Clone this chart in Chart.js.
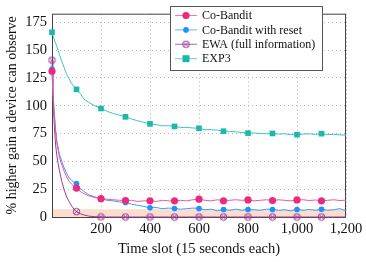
<!DOCTYPE html>
<html>
<head>
<meta charset="utf-8">
<script src="https://cdn.jsdelivr.net/npm/chart.js@4.4.1/dist/chart.umd.min.js"></script>
<style>
  html, body { margin: 0; padding: 0; background: #fff; }
  #wrap { width: 366px; height: 262px; }
</style>
</head>
<body>
<div id="wrap"><canvas id="gainChart" width="366" height="262"></canvas></div>
<script>
// time slots (x values)
const slots = [0, 3, 6, 10, 15, 20, 25, 30, 40, 50, 60, 70, 80, 90, 100, 115, 130, 150, 175, 200,
  225, 250, 275, 300, 325, 350, 375, 400, 425, 450, 475, 500, 525, 550, 575, 600, 625, 650, 675, 700,
  725, 750, 775, 800, 825, 850, 875, 900, 925, 950, 975, 1000, 1025, 1050, 1075, 1100, 1125, 1150, 1175, 1200];

const coBandit = [131, 115, 102, 89, 75, 66, 60, 54, 47, 41, 36, 32, 29.5, 27.5, 26, 23, 21, 19, 17.5, 16.5,
  16, 15.5, 15, 14.8, 15, 14, 14.5, 14.5, 14, 15, 14.5, 14.5, 15, 14.5, 15.5, 16, 15, 14.5, 15.5, 14.5,
  15, 15.5, 15, 15.3, 14.5, 15, 15.5, 14.8, 15.5, 15, 14.5, 15.3, 15.5, 14.8, 15.3, 14.5, 15, 15.5, 14.8, 15.2];

const coBanditReset = [133, 118, 105, 92, 78, 68, 62, 57, 50, 44, 39, 35, 33, 31, 30, 26, 23, 20, 18, 16.5,
  15, 14.5, 13.5, 13, 11.5, 10.5, 9.5, 8.3, 8.5, 7.5, 8, 7.7, 7, 7.5, 8, 7.7, 6.5, 7, 5.5, 6.8,
  6, 7, 6, 6.8, 6.5, 6, 7, 6.8, 6, 6.5, 5.5, 6.8, 6, 6.8, 6, 7, 6, 6.5, 7.5, 5.5];

const ewa = [141, 118, 98, 80, 64, 55, 48, 42, 32, 24, 18, 14, 10, 7, 4.8, 3, 1.8, 0.8, 0.3, 0.1,
  0, 0, 0, 0, 0, 0, 0, 0, 0, 0, 0, 0, 0, 0, 0, 0, 0, 0, 0, 0,
  0, 0, 0, 0, 0, 0, 0, 0, 0, 0, 0, 0, 0, 0, 0, 0, 0, 0, 0, 0];

const exp3 = [166, 164, 162, 159, 156, 153, 150, 146, 140, 134, 128, 124, 120, 117, 114.7, 111, 106, 103, 100, 97.5,
  95, 93, 91.5, 90, 88, 86.5, 85, 83.7, 83, 82, 82, 81.4, 80.5, 80.5, 80, 79.7, 78.5, 78.5, 78, 77.1,
  77, 76.5, 76, 75.4, 75.5, 75, 74.8, 75.1, 74.5, 74.8, 74, 74, 74.5, 74.8, 74.2, 74.9, 74, 74.3, 73.8, 73.5];

const seriesNames = ['Co-Bandit', 'Co-Bandit with reset', 'EWA (full information)', 'EXP3'];
const yTicks = [0, 25, 50, 75, 100, 125, 150, 175];
const xTicks = [200, 400, 600, 800, 1000, 1200];
const markEvery = 100;
const bandTop = 7;

const serif = "'Liberation Serif', 'DejaVu Serif', serif";

// otimes marker for EWA
function otimes(color, r) {
  const c = document.createElement('canvas');
  const s = Math.ceil(r * 2 + 2);
  c.width = s; c.height = s;
  const g = c.getContext('2d');
  const m = s / 2;
  g.strokeStyle = color;
  g.lineWidth = 1;
  g.beginPath(); g.arc(m, m, r, 0, Math.PI * 2); g.stroke();
  const d = r * 0.7;
  g.beginPath();
  g.moveTo(m - d, m - d); g.lineTo(m + d, m + d);
  g.moveTo(m + d, m - d); g.lineTo(m - d, m + d);
  g.stroke();
  return c;
}

const pink = '#ea2a7e', blue = '#1e90ff', purple = '#9a3c9a', teal = '#1db8aa';
const ewaMark = otimes(purple, 3.3);

const toPts = vals => slots.map((x, i) => ({ x: x, y: vals[i] }));
const showMark = r => ctx => (ctx.raw && ctx.raw.x % markEvery === 0 && ctx.raw.x < 1200) ? r : 0;

const styles = [
  { color: pink, line: '#f0559a', pointStyle: 'circle', r: 3.6 },
  { color: blue, line: '#3a9cff', pointStyle: 'circle', r: 2.8 },
  { color: purple, line: '#9a3c9a', pointStyle: ewaMark, r: 4 },
  { color: teal, line: '#3cc6bc', pointStyle: 'rect', r: 4 }
];
const seriesData = [coBandit, coBanditReset, ewa, exp3];

const datasets = seriesData.map((vals, i) => ({
  label: seriesNames[i],
  data: toPts(vals),
  borderColor: styles[i].line,
  backgroundColor: styles[i].color,
  borderWidth: 1,
  pointStyle: styles[i].pointStyle,
  pointRadius: showMark(styles[i].r),
  pointBorderWidth: 0,
  pointHoverRadius: 0,
  tension: 0,
  clip: false
}));

const framePlugin = {
  id: 'frame',
  beforeDatasetsDraw(chart) {
    const { ctx, chartArea: a, scales: { y } } = chart;
    const y0 = y.getPixelForValue(0), y1 = y.getPixelForValue(bandTop);
    ctx.save();
    ctx.fillStyle = 'rgba(250, 210, 188, 0.75)';
    ctx.fillRect(a.left, y1, a.right - a.left, y0 - y1);
    ctx.strokeStyle = '#444';
    ctx.lineWidth = 1;
    ctx.strokeRect(a.left + 0.5, a.top + 0.5, a.right - a.left - 1, a.bottom - a.top);
    ctx.restore();
  },
  afterDraw(chart) {
    const { ctx } = chart;
    const bx = 170, by = 6, bw = 152, bh = 64, rowH = 14.4;
    ctx.save();
    ctx.fillStyle = '#fff';
    ctx.fillRect(bx, by, bw, bh);
    ctx.strokeStyle = '#555';
    ctx.lineWidth = 1;
    ctx.strokeRect(bx + 0.5, by + 0.5, bw, bh);
    ctx.font = '12px ' + serif;
    ctx.textBaseline = 'middle';
    chart.data.datasets.forEach((ds, i) => {
      const cy = by + 9.5 + i * rowH;
      ctx.strokeStyle = ds.borderColor;
      ctx.globalAlpha = 0.8;
      ctx.beginPath(); ctx.moveTo(bx + 5, cy); ctx.lineTo(bx + 27, cy); ctx.stroke();
      ctx.globalAlpha = 1;
      const st = styles[i];
      const cx = bx + 16;
      if (st.pointStyle === 'circle') {
        ctx.fillStyle = st.color;
        ctx.beginPath(); ctx.arc(cx, cy, st.r, 0, Math.PI * 2); ctx.fill();
      } else if (st.pointStyle === 'rect') {
        ctx.fillStyle = st.color;
        ctx.fillRect(cx - 3.5, cy - 3.5, 7, 7);
      } else {
        ctx.drawImage(st.pointStyle, cx - st.pointStyle.width / 2, cy - st.pointStyle.height / 2);
      }
      ctx.fillStyle = '#111';
      ctx.fillText(ds.label, bx + 32, cy + 0.5);
    });
    ctx.restore();
  }
};

new Chart(document.getElementById('gainChart').getContext('2d'), {
  type: 'line',
  data: { datasets: datasets },
  options: {
    responsive: false,
    animation: false,
    events: [],
    layout: { padding: { top: 3, right: 20, left: 0, bottom: 0 } },
    plugins: { legend: { display: false }, tooltip: { enabled: false } },
    scales: {
      x: {
        type: 'linear',
        min: 0,
        max: 1200,
        afterBuildTicks: s => { s.ticks = xTicks.map(v => ({ value: v })); },
        afterFit: s => { s.height = 45; },
        ticks: {
          autoSkip: false,
          maxRotation: 0,
          padding: 3,
          color: '#111',
          font: { family: serif, size: 14.5 },
          callback: v => v.toLocaleString('en-US')
        },
        grid: { color: '#b4b4b4', tickLength: 0, drawTicks: false },
        border: { display: false, dash: [1, 3] },
        title: {
          display: true,
          text: 'Time slot (15 seconds each)',
          color: '#111',
          font: { family: serif, size: 14.5 },
          padding: { top: 4 }
        }
      },
      y: {
        min: 0,
        max: 182.7,
        afterBuildTicks: s => { s.ticks = yTicks.map(v => ({ value: v })); },
        afterFit: s => { s.width = 52; },
        ticks: {
          padding: 5,
          color: '#111',
          font: { family: serif, size: 14.5 }
        },
        grid: { color: '#b4b4b4', tickLength: 0, drawTicks: false },
        border: { display: false, dash: [1, 3] },
        title: {
          display: true,
          text: '% higher gain a device can observe',
          color: '#111',
          font: { family: serif, size: 14 },
          padding: { bottom: 0 }
        }
      }
    }
  },
  plugins: [framePlugin]
});
</script>
</body>
</html>
